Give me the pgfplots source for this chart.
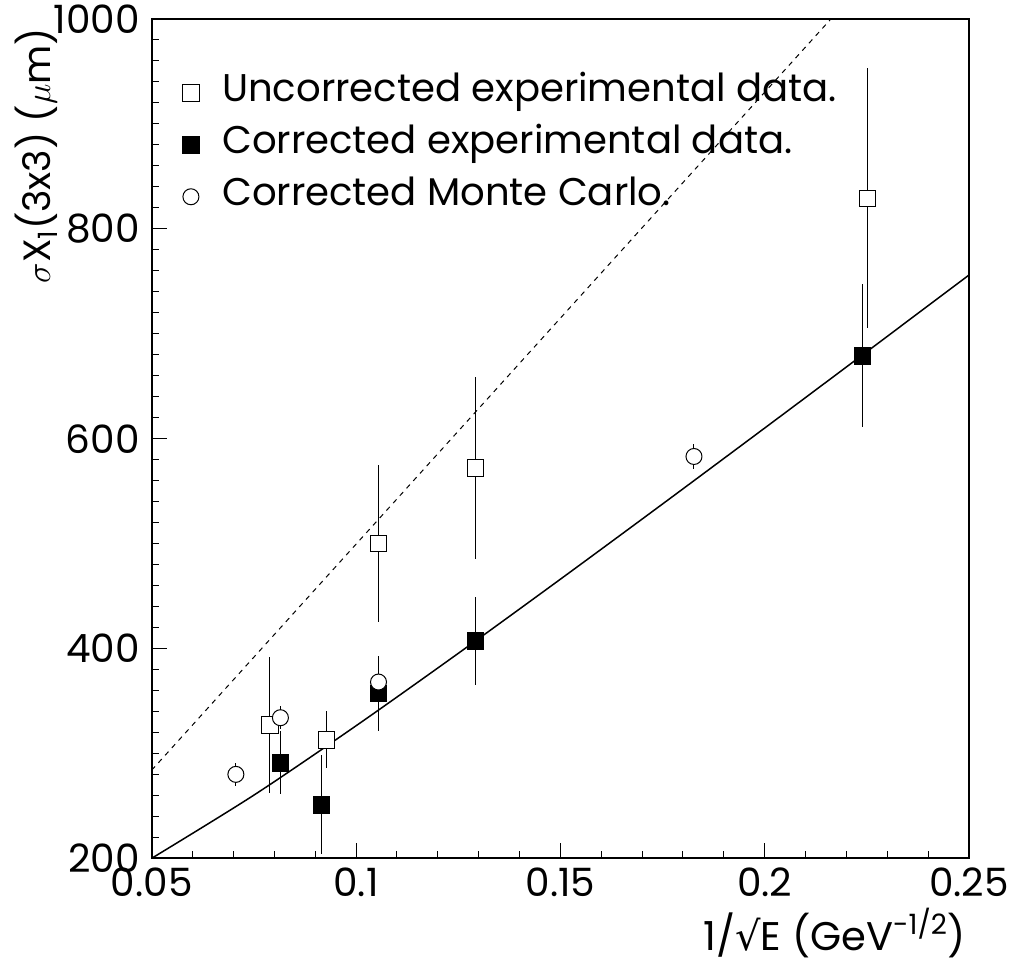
\documentclass[border=0pt]{standalone}
\usepackage{fontspec}
\setmainfont{Poppins}
\newfontfamily\dejavu{DejaVu Sans}
\usepackage{pgfplots}
\usepackage{pgfplotstable}
\pgfplotsset{compat=1.18}

\pgfplotstableread{
x y e
0.0789 327 65
0.0928 313 27
0.1055 500 75
0.1292 572 87
0.2252 829 124
}\uncorr

\pgfplotstableread{
x y e
0.0706 280 11
0.0815 334 11
0.1055 368 25
0.1827 583 12
}\mc

\pgfplotstableread{
x y e
0.0815 291 30
0.0915 251 47
0.1055 357 36
0.1292 407.5 42
0.2239 679 68
}\corr

\pgfplotstableread{
x y
0.050 200.0
0.075 260.2
0.100 326.3
0.125 395.3
0.150 466.0
0.175 537.7
0.200 610.1
0.225 682.9
0.250 756.0
}\fitsolid

\pgfplotstableread{
x y
0.050 284
0.2162 1000
}\fitdash

\begin{document}
\begin{tikzpicture}
\path[use as bounding box] (-75.85pt,-51.85pt) rectangle (429.15pt,429.15pt);
\begin{axis}[
  at={(0pt,0pt)}, anchor=south west,
  scale only axis, width=408.65pt, height=419.65pt,
  xmin=0.05, xmax=0.25, ymin=200, ymax=1000,
  xtick={0.05,0.1,0.15,0.2,0.25}, xticklabels={0.05,0.1,0.15,0.2,0.25},
  ytick={200,400,600,800,1000}, yticklabels={200,400,600,800,1000},
  scaled ticks=false,
  minor x tick num=4, minor y tick num=9,
  tick pos=left, tick align=inside,
  major tick length=7.85pt, minor tick length=3.85pt,
  tick style={black, line width=0.5pt},
  axis line style={line width=0.85pt},
  tick label style={font=\fontsize{19.5}{22}\selectfont},
  yticklabel style={inner sep=0pt, xshift=-5.8pt},
  xticklabel style={inner sep=0pt, yshift=-4.5pt},
  /pgf/number format/assume math mode=true,
  xlabel={1/{\dejavu √}E (GeV\textsuperscript{-1/2})},
  ylabel={$\sigma$X\textsubscript{1}(3x3) ($\mu$m)},
  xlabel style={at={(rel axis cs:0.997,-0.1093)}, anchor=base east, inner sep=0pt, font=\fontsize{20}{24}\selectfont},
  ylabel style={at={(rel axis cs:-0.1244,0.9895)}, anchor=base east, inner sep=0pt, font=\fontsize{19}{23}\selectfont},
  legend cell align=left,
  legend style={at={(rel axis cs:0.03,0.94)}, anchor=north west, draw=none, fill=none,
    font=\fontsize{19.3}{23}\selectfont, row sep=7pt, column sep=11.5pt,
    nodes={text height=14pt, text depth=5pt, inner sep=0pt}},
  legend image code/.code={\draw[#1] plot coordinates {(0pt,0pt)};},
  error bars/error bar style={line width=0.5pt, black},
]
\addplot[forget plot, black, line width=0.5pt, dash pattern=on 2.5pt off 2.5pt] table[x=x,y=y] {\fitdash};
\addplot[forget plot, black, line width=0.75pt, smooth] table[x=x,y=y] {\fitsolid};

\addplot[only marks, mark=square*, mark size=4.15pt, mark options={fill=white, draw=black, line width=0.5pt},
  error bars/.cd, y dir=both, y explicit, error mark=none]
  table[x=x, y=y, y error=e] {\uncorr};
\addlegendentry{Uncorrected experimental data.}

\addplot[only marks, mark=square*, mark size=4.15pt, mark options={fill=black, draw=black},
  error bars/.cd, y dir=both, y explicit, error mark=none]
  table[x=x, y=y, y error=e] {\corr};
\addlegendentry{Corrected experimental data.}

\addplot[only marks, mark=*, mark size=4pt, mark options={fill=white, draw=black, line width=0.5pt},
  error bars/.cd, y dir=both, y explicit, error mark=none]
  table[x=x, y=y, y error=e] {\mc};
\addlegendentry{Corrected Monte Carlo.}
\end{axis}
\end{tikzpicture}
\end{document}
